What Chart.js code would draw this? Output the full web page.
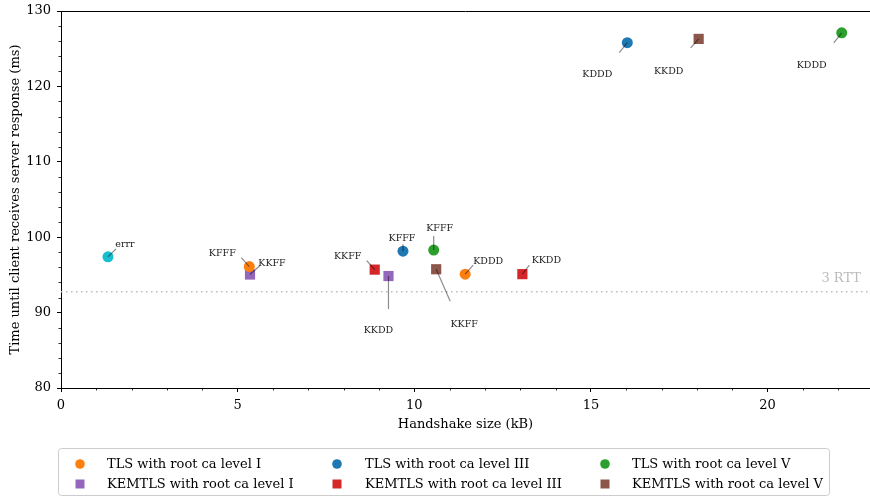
<!DOCTYPE html>
<html>
<head>
<meta charset="utf-8">
<script src="https://cdn.jsdelivr.net/npm/chart.js@4.4.1/dist/chart.umd.min.js"></script>
<style>
  html, body { margin: 0; padding: 0; background: #fff; }
</style>
</head>
<body>
<canvas id="chart" width="870" height="497"></canvas>
<script>
// values: handshake size (kB) vs. time (ms)
const tlsIX = [5.33, 11.44];
const tlsIY = [96.1, 95.1];
const tlsILabels = ['KFFF', 'KDDD'];

const tlsIIIX = [9.68, 16.03];
const tlsIIIY = [98.15, 125.8];
const tlsIIILabels = ['KFFF', 'KDDD'];

const tlsVX = [10.55, 22.1];
const tlsVY = [98.3, 127.1];
const tlsVLabels = ['KFFF', 'KDDD'];

const kemIX = [5.35, 9.27];
const kemIY = [95.05, 94.85];
const kemILabels = ['KKFF', 'KKDD'];

const kemIIIX = [8.88, 13.06];
const kemIIIY = [95.7, 95.1];
const kemIIILabels = ['KKFF', 'KKDD'];

const kemVX = [10.62, 18.05];
const kemVY = [95.75, 126.3];
const kemVLabels = ['KKFF', 'KKDD'];

const errX = [1.33];
const errY = [97.4];
const errLabels = ['errr'];

const rttValue = 92.75;
const rttLabel = '3 RTT';

const xTicks = [0, 5, 10, 15, 20];
const yTicks = [80, 90, 100, 110, 120, 130];

// annotation placement, px from the point: [textDx, textDy, lineDx, lineDy]
const tlsIPos = [[-27, -13, -8, -9], [23, -13, 8, -9]];
const tlsIIIPos = [[-1, -13, 0, -7], [-30, 32, -8, 10]];
const tlsVPos = [[6, -21, 0, -14], [-30, 33, -8, 10]];
const kemIPos = [[22, -11, 10, -9], [-10, 55, 0, 33]];
const kemIIIPos = [[-27, -13, -8, -9], [24, -14, 7, -9]];
const kemVPos = [[28, 55, 14, 32], [-30, 33, -8, 9]];
const errPos = [[17, -12, 8, -8]];

const FONT = 'DejaVu Serif';

function pts(xs, ys) {
    return xs.map((x, i) => ({ x: x, y: ys[i] }));
}

function series(label, xs, ys, names, pos, color, style, slot) {
    return {
        label: label,
        data: pts(xs, ys),
        names: names,
        pos: pos,
        slot: slot,
        pointStyle: style,
        pointRadius: style === 'rect' ? 7.2 : 5.5,
        backgroundColor: color,
        borderColor: color,
        borderWidth: 0,
        showLine: false
    };
}

const datasets = [
    series('TLS with root ca level I', tlsIX, tlsIY, tlsILabels, tlsIPos, '#ff7f0e', 'circle', [0, 0]),
    series('KEMTLS with root ca level I', kemIX, kemIY, kemILabels, kemIPos, '#9467bd', 'rect', [0, 1]),
    series('TLS with root ca level III', tlsIIIX, tlsIIIY, tlsIIILabels, tlsIIIPos, '#1f77b4', 'circle', [1, 0]),
    series('KEMTLS with root ca level III', kemIIIX, kemIIIY, kemIIILabels, kemIIIPos, '#d62728', 'rect', [1, 1]),
    series('TLS with root ca level V', tlsVX, tlsVY, tlsVLabels, tlsVPos, '#2ca02c', 'circle', [2, 0]),
    series('KEMTLS with root ca level V', kemVX, kemVY, kemVLabels, kemVPos, '#8c564b', 'rect', [2, 1]),
    series('errr', errX, errY, errLabels, errPos, '#17becf', 'circle', null),
    {
        type: 'line',
        label: rttLabel,
        data: [{ x: 0, y: rttValue }, { x: 23, y: rttValue }],
        borderColor: '#bbbbbb',
        borderWidth: 1.5,
        borderDash: [1.5, 3.5],
        pointRadius: 0,
        slot: null
    }
];

// lines + labels next to the points, the 3 RTT caption, minor ticks and top spine
const extras = {
    id: 'extras',
    afterDatasetsDraw(chart) {
        const ctx = chart.ctx;
        const xs = chart.scales.x, ys = chart.scales.y;
        ctx.save();
        chart.data.datasets.forEach((ds) => {
            if (!ds.names) return;
            ds.data.forEach((p, i) => {
                const px = xs.getPixelForValue(p.x), py = ys.getPixelForValue(p.y);
                const o = ds.pos[i];
                ctx.strokeStyle = 'rgba(0,0,0,0.45)';
                ctx.lineWidth = 1.2;
                ctx.beginPath();
                ctx.moveTo(px, py);
                ctx.lineTo(px + o[2], py + o[3]);
                ctx.stroke();
                ctx.fillStyle = '#1a1a1a';
                ctx.font = '9.5px "' + FONT + '"';
                ctx.textAlign = 'center';
                ctx.textBaseline = 'middle';
                ctx.fillText(ds.names[i], px + o[0], py + o[1]);
            });
        });
        // 3 RTT caption
        const ry = ys.getPixelForValue(rttValue);
        ctx.fillStyle = '#bbbbbb';
        ctx.font = '13px "' + FONT + '"';
        ctx.textAlign = 'right';
        ctx.textBaseline = 'middle';
        ctx.fillText(rttLabel, 861, ry - 13);
        ctx.restore();
    },
    afterDraw(chart) {
        const ctx = chart.ctx;
        const xs = chart.scales.x, ys = chart.scales.y;
        const area = chart.chartArea;
        ctx.save();
        ctx.strokeStyle = '#000';
        ctx.lineWidth = 1;
        // top spine
        ctx.beginPath();
        ctx.moveTo(area.left, area.top + 0.5);
        ctx.lineTo(area.right, area.top + 0.5);
        ctx.stroke();
        // minor ticks
        ctx.lineWidth = 0.8;
        ctx.beginPath();
        for (let v = 1; v < xs.max; v++) {
            if (v % 5 === 0) continue;
            const px = Math.round(xs.getPixelForValue(v)) + 0.5;
            ctx.moveTo(px, area.bottom);
            ctx.lineTo(px, area.bottom + 2.5);
        }
        for (let v = ys.min + 2; v < ys.max; v += 2) {
            if (v % 10 === 0) continue;
            const py = Math.round(ys.getPixelForValue(v)) + 0.5;
            ctx.moveTo(area.left, py);
            ctx.lineTo(area.left - 2.5, py);
        }
        ctx.stroke();

        // legend
        const box = { l: 58.5, t: 448.5, r: 829.5, b: 495.5 };
        ctx.fillStyle = 'rgba(255,255,255,0.8)';
        ctx.strokeStyle = '#cccccc';
        ctx.lineWidth = 1;
        ctx.beginPath();
        ctx.roundRect(box.l, box.t, box.r - box.l, box.b - box.t, 3);
        ctx.fill();
        ctx.stroke();
        const markX = [80, 337, 605];
        const textX = [107, 365, 632];
        const rowY = [464, 484];
        ctx.font = '13px "' + FONT + '"';
        ctx.textAlign = 'left';
        ctx.textBaseline = 'middle';
        chart.data.datasets.forEach((ds) => {
            if (!ds.slot) return;
            const mx = markX[ds.slot[0]], my = rowY[ds.slot[1]];
            ctx.fillStyle = ds.backgroundColor;
            ctx.beginPath();
            if (ds.pointStyle === 'rect') {
                ctx.rect(mx - 4.5, my - 4.5, 9, 9);
            } else {
                ctx.arc(mx, my, 4.8, 0, Math.PI * 2);
            }
            ctx.fill();
            ctx.fillStyle = '#000';
            ctx.fillText(ds.label, textX[ds.slot[0]], my + 1);
        });
        ctx.restore();
    }
};

new Chart(document.getElementById('chart'), {
    type: 'scatter',
    data: { datasets: datasets },
    options: {
        responsive: false,
        animation: false,
        devicePixelRatio: 1,
        layout: { autoPadding: false, padding: { left: 0, right: 0, top: 11, bottom: 60 } },
        plugins: {
            legend: { display: false },
            tooltip: { enabled: false }
        },
        scales: {
            x: {
                type: 'linear',
                min: 0,
                max: 22.9,
                afterBuildTicks: (s) => { s.ticks = xTicks.map((v) => ({ value: v })); },
                afterFit: (s) => { s.height = 49; s.paddingLeft = 0; s.paddingRight = 0; },
                grid: { drawOnChartArea: false, drawTicks: true, tickLength: 4, color: '#000', tickWidth: 1 },
                border: { display: true, color: '#000', width: 1 },
                ticks: { color: '#000', padding: 6, maxRotation: 0, font: { family: FONT, size: 13 } },
                title: {
                    display: true,
                    text: 'Handshake size (kB)',
                    color: '#000',
                    padding: { top: 0, bottom: 5 },
                    font: { family: FONT, size: 13 }
                }
            },
            y: {
                type: 'linear',
                min: 80,
                max: 130,
                afterBuildTicks: (s) => { s.ticks = yTicks.map((v) => ({ value: v })); },
                afterFit: (s) => { s.width = 61; s.paddingTop = 0; s.paddingBottom = 0; },
                grid: { drawOnChartArea: false, drawTicks: true, tickLength: 4, color: '#000', tickWidth: 1 },
                border: { display: true, color: '#000', width: 1 },
                ticks: { color: '#000', padding: 6, font: { family: FONT, size: 13 } },
                title: {
                    display: true,
                    text: 'Time until client receives server response (ms)',
                    color: '#000',
                    padding: { top: 8, bottom: 0 },
                    font: { family: FONT, size: 13 }
                }
            }
        }
    },
    plugins: [extras]
});
</script>
</body>
</html>
